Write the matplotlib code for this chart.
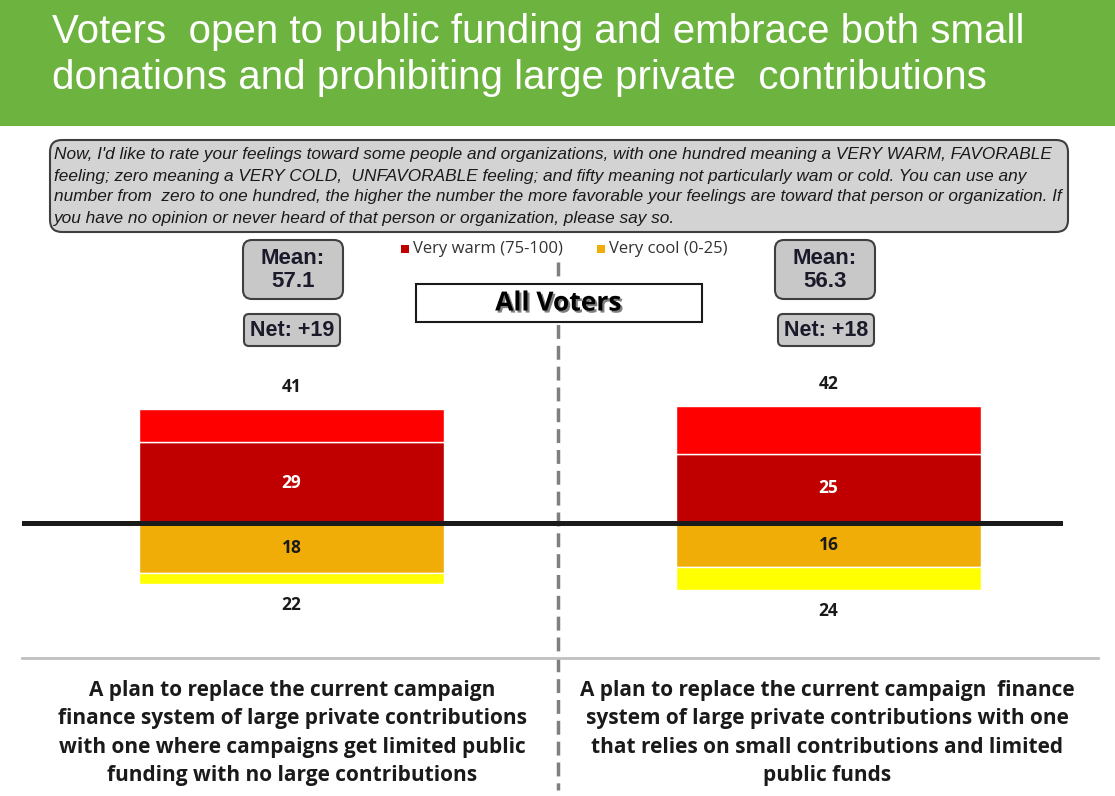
import matplotlib
matplotlib.use("Agg")
import matplotlib.pyplot as plt
import matplotlib.patheffects as pe
from matplotlib.patches import FancyBboxPatch, Rectangle
from matplotlib import font_manager
import numpy as np

# ---- data ----
plans = [
    "A plan to replace the current campaign\nfinance system of large private contributions\nwith one where campaigns get limited public\nfunding with no large contributions",
    "A plan to replace the current campaign  finance\nsystem of large private contributions with one\nthat relies on small contributions and limited\npublic funds",
]
very_warm = [29, 25]        # 75-100
total_warm = [41, 42]       # 51-100
very_cool = [18, 16]        # 0-25
total_cool = [22, 24]       # 0-49
means = ["57.1", "56.3"]
nets = ["+19", "+18"]

title = "Voters  open to public funding and embrace both small\ndonations and prohibiting large private  contributions"
question = [
    "Now, I'd like to rate your feelings toward some people and organizations, with one hundred meaning a VERY WARM, FAVORABLE",
    "feeling; zero meaning a VERY COLD,  UNFAVORABLE feeling; and fifty meaning not particularly wam or cold. You can use any",
    "number from  zero to one hundred, the higher the number the more favorable your feelings are toward that person or organization. If",
    "you have no opinion or never heard of that person or organization, please say so.",
]

W, H = 1115, 796
available = {f.name for f in font_manager.fontManager.ttflist}
narrow = "Liberation Sans Narrow" if "Liberation Sans Narrow" in available else "Open Sans"
arial = "Liberation Sans"

fig = plt.figure(figsize=(W / 100, H / 100), dpi=100)

# overlay axes in pixel units for the slide decorations
ov = fig.add_axes([0, 0, 1, 1], zorder=0)
ov.set_xlim(0, W)
ov.set_ylim(H, 0)
ov.axis("off")

# header band
ov.add_patch(Rectangle((0, 0), W, 126, color="#6DB33F", lw=0))
ov.text(52, 55, title, color="white", fontsize=29, family=arial,
        va="center", ha="left", linespacing=1.28)

# question box
ov.add_patch(FancyBboxPatch((50, 140), 1018, 92, boxstyle="round,pad=0,rounding_size=12",
                            fc="#D3D3D3", ec="#3F3F3F", lw=1.5))
for i, line in enumerate(question):
    ov.text(54, 155 + 21 * i, line, fontsize=12.4, style="italic", family=arial,
            va="center", ha="left", color="#1a1a1a")

# mean / net boxes
mean_x = [243, 775]
net_x = [244, 778]
for i in range(2):
    ov.add_patch(FancyBboxPatch((mean_x[i], 240), 100, 59, boxstyle="round,pad=0,rounding_size=9",
                                fc="#C8C8C8", ec="#3F3F3F", lw=1.5))
    ov.text(mean_x[i] + 50, 270, "Mean:\n" + means[i], fontsize=16, weight="bold", family=arial,
            ha="center", va="center", linespacing=1.1, color="#1a1a2a")
    ov.add_patch(FancyBboxPatch((net_x[i], 314), 96, 32, boxstyle="round,pad=0,rounding_size=5",
                                fc="#C8C8C8", ec="#3F3F3F", lw=1.5))
    ov.text(net_x[i] + 48, 331, "Net: " + nets[i], fontsize=15.5, weight="bold", family=arial,
            ha="center", va="center", color="#1a1a2a")

# legend
ov.add_patch(Rectangle((401, 245), 8, 8, color="#C00000", lw=0))
ov.text(413, 249, "Very warm (75-100)", fontsize=12, family=narrow, va="center", color="#333333")
ov.add_patch(Rectangle((597, 245), 8, 8, color="#F0AD08", lw=0))
ov.text(609, 249, "Very cool (0-25)", fontsize=12, family=narrow, va="center", color="#333333")

# dashed divider and bottom rule
ov.plot([558, 558], [262, 790], color="#7F7F7F", lw=2.5, dashes=(4, 2))
ov.plot([22, 1098], [658, 658], color="#C0C0C0", lw=2)

# "All Voters" box
ov.add_patch(Rectangle((416, 284), 286, 38, fc="white", ec="#1a1a1a", lw=1.5, zorder=3))
ov.text(558, 303, "All Voters", fontsize=19, weight="bold", family=narrow, ha="center", va="center",
        zorder=4, path_effects=[pe.withSimplePatchShadow(offset=(1.5, -1.5), alpha=0.5)])

# plan descriptions
for cx, txt in zip([292, 827], plans):
    ov.text(cx, 733, txt, fontsize=15, weight="bold", family=narrow, ha="center", va="center",
            linespacing=1.45, color="#1a1a1a")

# ---- bar chart ----
px_per_unit = 2.78
top_px, bot_px, zero_px = 370, 640, 523
ax = fig.add_axes([22 / W, 1 - bot_px / H, 1041 / W, (bot_px - top_px) / H], zorder=1)
ax.patch.set_alpha(0)
ax.set_ylim(-(bot_px - zero_px) / px_per_unit, (zero_px - top_px) / px_per_unit)
ax.set_xlim(-0.5019, 1.4367)
ax.axis("off")

x = np.arange(len(plans))
vw = np.array(very_warm)
tw = np.array(total_warm)
vc = np.array(very_cool)
tc = np.array(total_cool)
bw = 0.568
ax.bar(x, vw, bw, color="#C00000", edgecolor="white", lw=1)
ax.bar(x, tw - vw, bw, bottom=vw, color="#FF0000", edgecolor="white", lw=1)
ax.bar(x, -vc, bw, color="#F0AD08", edgecolor="white", lw=1)
ax.bar(x, -(tc - vc), bw, bottom=-vc, color="#FFFF00", edgecolor="white", lw=1)
ax.axhline(0, color="#1a1a1a", lw=3.6)

for i in range(len(x)):
    ax.text(x[i], vw[i] / 2, str(vw[i]), color="white", fontsize=12.5, weight="bold",
            family=narrow, ha="center", va="center")
    ax.text(x[i], -vc[i] / 2, str(vc[i]), color="#1a1a1a", fontsize=12.5, weight="bold",
            family=narrow, ha="center", va="center")
    ax.annotate(str(tw[i]), (x[i], tw[i]), xytext=(0, 22), textcoords="offset pixels",
                ha="center", va="center", fontsize=12.5, weight="bold", family=narrow, color="#1a1a1a")
    ax.annotate(str(tc[i]), (x[i], -tc[i]), xytext=(0, -21), textcoords="offset pixels",
                ha="center", va="center", fontsize=12.5, weight="bold", family=narrow, color="#1a1a1a")

fig.savefig("out.png", dpi=100)
